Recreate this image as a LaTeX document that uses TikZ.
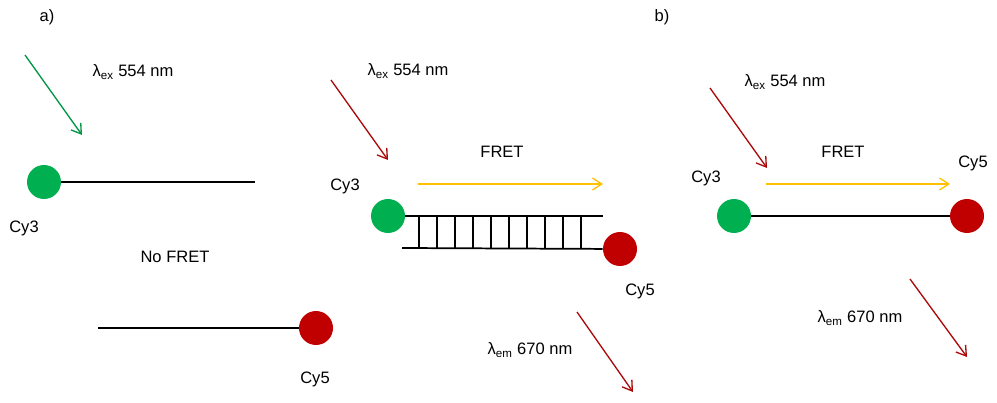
\documentclass[tikz,border=0pt]{standalone}
\usepackage{fontspec}
\setmainfont{Liberation Sans}
\usepackage{tikz}
\usetikzlibrary{arrows.meta}
\definecolor{dyegreen}{RGB}{0,176,80}
\definecolor{dyered}{RGB}{192,0,0}
\definecolor{lightred}{RGB}{170,10,10}
\definecolor{fretyellow}{RGB}{255,192,0}
\newcommand{\lex}{λ\textsubscript{ex} 554 nm}
\newcommand{\lem}{λ\textsubscript{em} 670 nm}

\begin{document}
\begin{tikzpicture}[x=0.75pt,y=-0.75pt]
\tikzstyle{every node}=[font=\fontsize{12.4}{15}\selectfont]
\tikzstyle{dye}=[circle,inner sep=0pt,minimum size=25.5pt]
\tikzstyle{strand}=[line width=1.3pt]
\tikzstyle{light}=[line width=1pt,arrows={-Straight Barb[length=7pt,width=9pt]}]
\useasboundingbox (0,0) rectangle (997,403);
% a) no FRET
\node (la) at (47,17) {a)};
\node[dye,fill=dyegreen] (g1) at (44,182) {};
\coordinate (e1) at (255,182);
\draw[strand] (g1) -- (e1);
\node (c31) at (24,228) {Cy3};
\coordinate (s1) at (25,55);
\coordinate (t1) at (82,135);
\draw[light,dyegreen!85!black] (s1) -- (t1);
\node (x1) at (133,72) {\lex};
\node (nof) at (175,257) {No FRET};
\node[dye,fill=dyered] (r1) at (316,328) {};
\coordinate (e2) at (98,328);
\draw[strand] (e2) -- (r1);
\node (c51) at (315,379) {Cy5};
% a) FRET on the duplex
\coordinate (s2) at (331,80);
\coordinate (t2) at (388,160);
\draw[light,lightred] (s2) -- (t2);
\node (x2) at (408,71) {\lex};
\node (f2) at (502,152) {FRET};
\coordinate (fa) at (418,184);
\coordinate (fb) at (603,184);
\draw[light,fretyellow] (fa) -- (fb);
\node (c32) at (345,186) {Cy3};
\node[dye,fill=dyegreen] (g2) at (388,216) {};
\node[dye,fill=dyered] (r2) at (620,249) {};
\coordinate (e3) at (603,216);
\coordinate (e4) at (402,248);
\draw[strand] (g2) -- (e3);
\draw[strand] (e4) -- (r2);
\foreach \i in {0,...,9}
  \draw[line width=1.1pt] (419+18*\i,216) -- (419+18*\i,248);
\node (c52) at (640,291) {Cy5};
\coordinate (s3) at (577,312);
\coordinate (t3) at (633,392);
\draw[light,lightred] (s3) -- (t3);
\node (m3) at (530,350) {\lem};
% b) single strand
\node (lb) at (662,17) {b)};
\coordinate (s4) at (710,88);
\coordinate (t4) at (767,168);
\draw[light,lightred] (s4) -- (t4);
\node (x4) at (785,82) {\lex};
\node (f4) at (843,152) {FRET};
\coordinate (fc) at (766,184);
\coordinate (fd) at (950,184);
\draw[light,fretyellow] (fc) -- (fd);
\node (c34) at (706,178) {Cy3};
\node (c54) at (973,163) {Cy5};
\node[dye,fill=dyegreen] (g4) at (734,216) {};
\node[dye,fill=dyered] (r4) at (967,216) {};
\draw[strand] (g4) -- (r4);
\coordinate (s5) at (910,279);
\coordinate (t5) at (967,357);
\draw[light,lightred] (s5) -- (t5);
\node (m5) at (860,318) {\lem};
\end{tikzpicture}
\end{document}
